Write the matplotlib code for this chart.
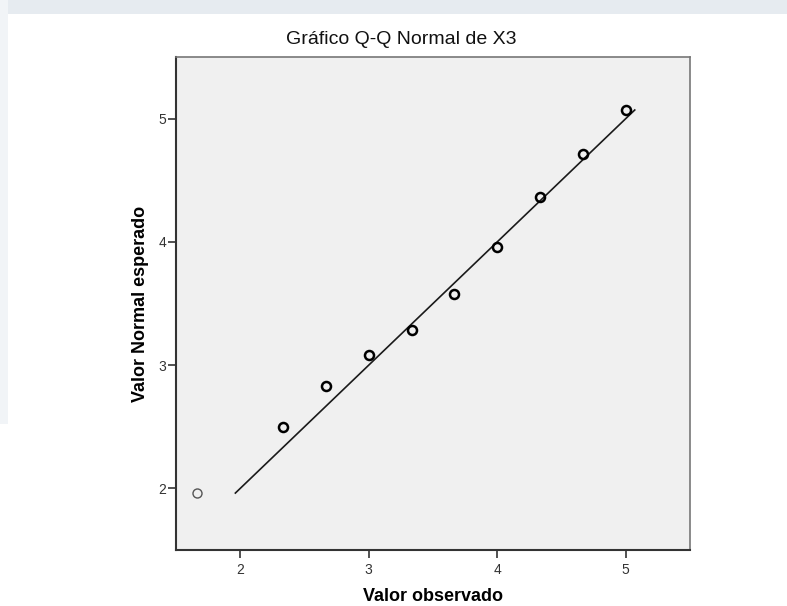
"""
Gráfico Q-Q Normal de X3 (estilo SPSS)
"""

import matplotlib.pyplot as plt
from matplotlib.patches import Rectangle

plt.rcParams["font.family"] = ["Liberation Sans", "DejaVu Sans"]

# valores observados e valores normais esperados
valor_observado = [1.667, 2.333, 2.667, 3.0, 3.333, 3.667, 4.0, 4.333, 4.667, 5.0]
valor_esperado = [1.962, 2.494, 2.834, 3.084, 3.288, 3.575, 3.96, 4.362, 4.716, 5.07]
ticks = [2, 3, 4, 5]

fig = plt.figure(figsize=(7.87, 6.06), dpi=100)
fig.patch.set_facecolor("white")

# faixa clara do fundo (marca d'água)
fig.patches.append(Rectangle((0, 1 - 14 / 606), 1, 14 / 606, transform=fig.transFigure,
                             facecolor="#e6ebf0", edgecolor="none", zorder=0))
fig.patches.append(Rectangle((0, 0.3), 8 / 787, 0.7, transform=fig.transFigure,
                             facecolor="#f1f4f7", edgecolor="none", zorder=0))

ax = fig.add_axes([176 / 787, 1 - 550 / 606, 514 / 787, 493 / 606])
ax.set_facecolor("#f0f0f0")

# linha de referência y = x
lo, hi = min(valor_esperado), max(valor_esperado)
ax.plot([lo, hi], [lo, hi], color="#1a1a1a", linewidth=1.2, zorder=2)

# primeiro ponto mais claro, demais em negrito
ax.plot(valor_observado[:1], valor_esperado[:1], linestyle="none", marker="o",
        markersize=6.5, markerfacecolor="none", markeredgecolor="#555555",
        markeredgewidth=1.0, zorder=3)
ax.plot(valor_observado[1:], valor_esperado[1:], linestyle="none", marker="o",
        markersize=6.5, markerfacecolor="none", markeredgecolor="black",
        markeredgewidth=1.8, zorder=3)

ax.set_xlim(1.5, 5.5)
ax.set_ylim(1.5, 5.5)
ax.set_xticks(ticks)
ax.set_yticks(ticks)
ax.tick_params(axis="both", direction="out", length=6, width=1.2, color="#333333",
               labelsize=10, labelcolor="#333333")
ax.tick_params(axis="x", pad=3)
ax.tick_params(axis="y", pad=1)

for side in ["left", "bottom"]:
    ax.spines[side].set_color("#333333")
    ax.spines[side].set_linewidth(1.5)
for side in ["top", "right"]:
    ax.spines[side].set_color("#777777")
    ax.spines[side].set_linewidth(1.2)

ax.set_xlabel("Valor observado", fontsize=13, fontweight="bold", labelpad=8)
ax.set_ylabel("Valor Normal esperado", fontsize=13, fontweight="bold", labelpad=7)

fig.text(401 / 787, 1 - 40 / 606, "Gráfico Q-Q Normal de X3", fontsize=14,
         ha="center", va="center", color="#111111")

plt.savefig("out.png", dpi=100)
